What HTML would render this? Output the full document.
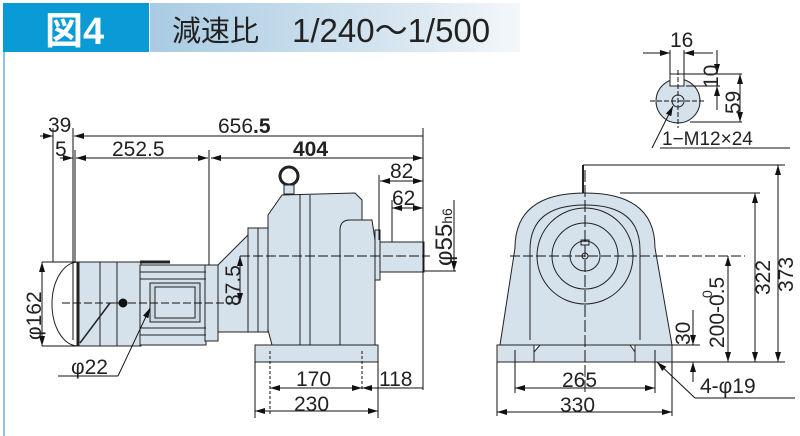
<!DOCTYPE html>
<html><head><meta charset="utf-8"><style>
html,body{margin:0;padding:0;background:#fff}
svg{display:block}
text{font-family:"Liberation Sans","Noto Sans CJK JP",sans-serif;fill:#222}
</style></head><body>
<svg width="800" height="436" viewBox="0 0 800 436" xmlns="http://www.w3.org/2000/svg">
<defs>
<linearGradient id="hg" x1="0" x2="1" y1="0" y2="0">
<stop offset="0" stop-color="#a9cbe3"/><stop offset="0.75" stop-color="#dde9f2"/><stop offset="1" stop-color="#f4f8fb"/>
</linearGradient>
<marker id="a" viewBox="0 0 10 6" refX="10" refY="3" markerWidth="10" markerHeight="6" orient="auto-start-reverse" markerUnits="userSpaceOnUse"><path d="M0,0 L10,3 L0,6 z" fill="#111"/></marker>
</defs>
<rect x="0" y="0" width="800" height="52" fill="#fff"/>
<rect x="150" y="3" width="370" height="49" fill="url(#hg)"/>
<rect x="3" y="3" width="146" height="49" fill="#0a9ad6"/>
<rect x="3" y="52" width="2" height="384" fill="#8fc4e6"/>
<text x="45" y="44" font-size="38" font-weight="bold" style="fill:#fff">図4</text>
<text x="172" y="41" font-size="29" style="fill:#222">減速比</text>
<text x="292" y="42" font-size="33" style="fill:#222">1/240～1/500</text>

<g stroke="#111" stroke-width="1" fill="none">
<g fill="#d6e2eb" stroke="#222" stroke-width="1">
<path d="M78,262 A26,42 0 0 0 78,346 Z" fill="#fff"/>
<rect x="78" y="262" width="63" height="84"/>
<rect x="140" y="265" width="66" height="80"/>
<rect x="150" y="283" width="50" height="39" fill="#cbd8e2"/>
<rect x="155" y="287" width="40" height="31"/>
<rect x="205" y="265" width="13" height="76"/>
<path d="M218,265 L250,233 L250,332 L218,332 Z"/>
<rect x="248" y="228" width="20" height="104"/>
<path d="M268,215 L282,195 L355,193 L362,200 L362,345 L272,345 L268,330 Z"/>
<path d="M340,230 Q340,220 350,220 L372,220 L375,240 L375,345 L340,345 Z"/>
<rect x="375" y="230" width="5" height="50"/>
<rect x="380" y="242" width="44" height="30"/>
<rect x="255" y="345" width="123" height="17"/>
<circle cx="289" cy="176" r="9" fill="none" stroke-width="3"/>
<rect x="284" y="185" width="10" height="9"/>
</g>
<g stroke="#222">
<line x1="100" y1="262" x2="100" y2="346"/><line x1="117" y1="262" x2="117" y2="346"/>
<line x1="78" y1="262" x2="78" y2="346" stroke-width="3"/>
<line x1="140" y1="272" x2="206" y2="272"/><line x1="140" y1="279" x2="206" y2="279"/>
<line x1="140" y1="328" x2="206" y2="328"/><line x1="140" y1="335" x2="206" y2="335"/>
<line x1="140" y1="262" x2="170" y2="262" stroke-width="3"/>
<line x1="300" y1="195" x2="300" y2="345"/><line x1="310" y1="195" x2="310" y2="345"/>
<line x1="258" y1="228" x2="258" y2="332"/>
<line x1="80" y1="343" x2="110" y2="303" stroke-width="1.5"/>
<line x1="110" y1="303" x2="122" y2="303"/>
</g>
<circle cx="123" cy="303" r="4" fill="#111"/>
<line x1="62" y1="303" x2="240" y2="303" stroke-dasharray="8,3"/>
<line x1="240" y1="256" x2="430" y2="256" stroke-dasharray="10,3"/>
<line x1="270" y1="351" x2="270" y2="415" stroke-dasharray="3,2"/>
<line x1="362" y1="351" x2="362" y2="390" stroke-dasharray="3,2"/>
<line x1="53" y1="128" x2="53" y2="262"/>
<line x1="73" y1="128" x2="73" y2="340"/>
<line x1="75" y1="150" x2="75" y2="262"/>
<line x1="209" y1="150" x2="209" y2="265"/>
<line x1="423" y1="128" x2="423" y2="320"/>
<line x1="379" y1="175" x2="379" y2="240"/>
<line x1="392" y1="200" x2="392" y2="242"/>
<line x1="255" y1="362" x2="255" y2="418"/>
<line x1="378" y1="362" x2="378" y2="418"/>
<line x1="423" y1="320" x2="423" y2="390"/>
<line x1="40" y1="136" x2="53" y2="136" marker-end="url(#a)"/>
<line x1="423" y1="136" x2="74" y2="136" marker-end="url(#a)"/>
<line x1="60" y1="158" x2="73" y2="158" marker-end="url(#a)"/>
<line x1="76" y1="158" x2="208" y2="158" marker-start="url(#a)" marker-end="url(#a)"/>
<line x1="211" y1="158" x2="423" y2="158" marker-start="url(#a)" marker-end="url(#a)"/>
<line x1="380" y1="181" x2="423" y2="181" marker-start="url(#a)" marker-end="url(#a)"/>
<line x1="392" y1="208" x2="423" y2="208" marker-start="url(#a)" marker-end="url(#a)"/>
<line x1="424" y1="271" x2="456" y2="271"/>
<line x1="454" y1="200" x2="454" y2="271" marker-end="url(#a)"/>
<line x1="42" y1="262" x2="78" y2="262"/><line x1="42" y1="346" x2="78" y2="346"/>
<line x1="42" y1="262" x2="42" y2="346" marker-start="url(#a)" marker-end="url(#a)"/>
<line x1="240" y1="256" x2="240" y2="303" marker-start="url(#a)" marker-end="url(#a)"/>
<line x1="270" y1="388" x2="362" y2="388" marker-start="url(#a)" marker-end="url(#a)"/>
<line x1="362" y1="388" x2="423" y2="388" marker-start="url(#a)"/>
<line x1="255" y1="411" x2="378" y2="411" marker-start="url(#a)" marker-end="url(#a)"/>
<line x1="58" y1="376" x2="118" y2="376"/><line x1="118" y1="376" x2="150" y2="308" marker-end="url(#a)"/>

<g fill="#d6e2eb" stroke="#222" stroke-width="1">
<path d="M500,345 L515,248 Q515,193 585,193 Q655,193 655,248 L672,345 Z"/>
<rect x="497" y="345" width="37" height="17"/>
<rect x="635" y="345" width="37" height="17"/>
<path d="M534,352 L540,345 L630,345 L635,352 L635,362 L534,362 Z"/>
</g>
<g stroke="#222">
<path d="M530,340 L530,250 Q530,205 585,205 Q640,205 640,250 L640,340"/>
<circle cx="585" cy="256" r="48"/>
<circle cx="585" cy="256" r="33"/>
<circle cx="585" cy="256" r="15"/>
<circle cx="585" cy="256" r="3"/>
<rect x="581" y="240" width="8" height="5"/>
<line x1="583" y1="165" x2="583" y2="193" stroke-width="2"/>
</g>
<line x1="510" y1="256" x2="745" y2="256" stroke-dasharray="10,3"/>
<line x1="585" y1="170" x2="585" y2="395" stroke-dasharray="12,3"/>
<line x1="515" y1="350" x2="515" y2="393"/><line x1="655" y1="350" x2="655" y2="393"/>
<line x1="497" y1="362" x2="497" y2="416"/><line x1="672" y1="362" x2="672" y2="416"/>
<line x1="583" y1="165" x2="785" y2="165"/>
<line x1="620" y1="193" x2="760" y2="193"/>
<line x1="672" y1="362" x2="785" y2="362"/>
<line x1="672" y1="345" x2="700" y2="345"/>
<line x1="778" y1="165" x2="778" y2="362" marker-start="url(#a)" marker-end="url(#a)"/>
<line x1="755" y1="193" x2="755" y2="362" marker-start="url(#a)" marker-end="url(#a)"/>
<line x1="728" y1="256" x2="728" y2="362" marker-start="url(#a)" marker-end="url(#a)"/>
<line x1="693" y1="310" x2="693" y2="345" marker-end="url(#a)"/>
<line x1="693" y1="382" x2="693" y2="362" marker-end="url(#a)"/>
<line x1="515" y1="388" x2="655" y2="388" marker-start="url(#a)" marker-end="url(#a)"/>
<line x1="497" y1="412" x2="672" y2="412" marker-start="url(#a)" marker-end="url(#a)"/>
<line x1="795" y1="398" x2="695" y2="398"/><line x1="695" y1="398" x2="657" y2="362" marker-end="url(#a)"/>

<circle cx="678" cy="101" r="22" fill="#d6e2eb" stroke="#222"/>
<rect x="670" y="74" width="14" height="12" fill="#fff" stroke="#222"/>
<circle cx="678" cy="101" r="6" stroke="#222"/>
<line x1="650" y1="101" x2="706" y2="101" stroke-dasharray="5,2"/>
<line x1="678" y1="70" x2="678" y2="128" stroke-dasharray="5,2"/>
<line x1="670" y1="50" x2="670" y2="74"/><line x1="684" y1="50" x2="684" y2="74"/>
<line x1="643" y1="53" x2="670" y2="53" marker-end="url(#a)"/>
<line x1="713" y1="53" x2="684" y2="53" marker-end="url(#a)"/>
<line x1="684" y1="74" x2="742" y2="74"/>
<line x1="686" y1="86" x2="720" y2="86"/>
<line x1="690" y1="122" x2="742" y2="122"/>
<line x1="717" y1="50" x2="717" y2="74" marker-end="url(#a)"/>
<line x1="717" y1="110" x2="717" y2="86" marker-end="url(#a)"/>
<line x1="740" y1="74" x2="740" y2="122" marker-start="url(#a)" marker-end="url(#a)"/>
<line x1="652" y1="148" x2="673" y2="106" marker-end="url(#a)"/>
<line x1="660" y1="148" x2="790" y2="148"/>
</g>

<g font-size="21">
<text x="48" y="132">39</text>
<text x="55" y="156">5</text>
<text x="112" y="156">252.5</text>
<text x="218" y="133">656<tspan font-weight="bold">.5</tspan></text>
<text x="293" y="156" font-weight="bold">404</text>
<text x="390" y="178">82</text>
<text x="392" y="205">62</text>
<text x="71" y="374">φ22</text>
<text x="296" y="386">170</text>
<text x="379" y="386">118</text>
<text x="294" y="411">230</text>
<text x="562" y="387">265</text>
<text x="560" y="412">330</text>
<text x="700" y="393">4-φ19</text>
<text x="670" y="47">16</text>
<text x="662" y="145" font-size="19">1−M12×24</text>
</g>
<g font-size="21">
<text transform="translate(452,266) rotate(-90)" font-size="24">φ55<tspan font-size="14">h6</tspan></text>
<text transform="translate(41,340) rotate(-90)">φ162</text>
<text transform="translate(240,306) rotate(-90)">87.5</text>
<text transform="translate(793,292) rotate(-90)">373</text>
<text transform="translate(770,295) rotate(-90)">322</text>
<text transform="translate(724,348) rotate(-90)">200-0.5</text>
<text transform="translate(712,298) rotate(-90)" font-size="14">0</text>
<text transform="translate(690,345) rotate(-90)">30</text>
<text transform="translate(718,88) rotate(-90)">10</text>
<text transform="translate(740,114) rotate(-90)">59</text>
</g>
</svg>
</body></html>
